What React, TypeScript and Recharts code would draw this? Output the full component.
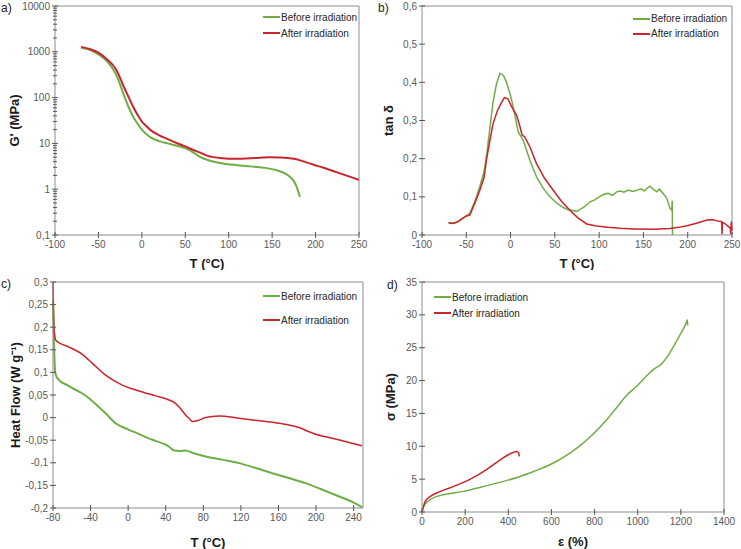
import { LineChart, Line, XAxis, YAxis, Legend, ReferenceLine } from "recharts";

const FONT = '"Liberation Sans", Arial, sans-serif';
const GREEN = "#70ad47";
const RED = "#c8252c";
const AXIS = "#8c8c8c";
const TICK_TEXT = "#595959";
const TICK_LINE = "#555555";

// a) storage modulus G' (MPa) vs T
const gTempBefore = [-70, -60, -50, -40, -30, -20, -15, -10, -5, 0, 5, 10, 20, 30, 40, 50, 55, 60, 67, 75, 90, 110, 125, 140, 155, 165, 170, 175, 178, 182];
const gBefore = [1220, 1100, 880, 620, 330, 105, 60, 38, 27, 20, 16, 13.5, 11.2, 10, 8.9, 7.8, 7.1, 6.2, 5.1, 4.4, 3.75, 3.35, 3.15, 2.95, 2.6, 2.2, 1.9, 1.5, 1.15, 0.68];
const gTempAfter = [-70, -60, -50, -40, -30, -20, -15, -10, -5, 0, 5, 10, 20, 30, 40, 50, 60, 67, 75, 90, 100, 115, 130, 145, 160, 175, 185, 197, 210, 220, 235, 250];
const gAfter = [1280, 1150, 960, 680, 420, 160, 100, 63, 42, 30, 24, 19.5, 15, 12.4, 10.2, 8.6, 7.1, 6.3, 5.4, 4.8, 4.65, 4.65, 4.8, 5.0, 4.95, 4.6, 4.1, 3.45, 2.9, 2.5, 2.0, 1.6];

// b) tan delta vs T
const tanTempBefore = [-70, -65, -60, -50, -46, -40, -35, -30, -27, -20, -16, -12, -8, -4.6, 0, 3, 8.6, 14.3, 21.8, 29.3, 37, 44.4, 52, 59.5, 65, 70.8, 75, 78.4, 84, 89.7, 95, 100, 104.8, 110, 115, 120, 123.6, 128, 133, 138, 142.5, 147, 151, 155, 157.5, 161, 165, 168, 172.6, 176.4, 180, 182, 182.5, 182.8];
const tanBefore = [0.032, 0.031, 0.035, 0.05, 0.057, 0.09, 0.125, 0.165, 0.21, 0.345, 0.395, 0.424, 0.418, 0.4, 0.365, 0.335, 0.27, 0.248, 0.196, 0.152, 0.122, 0.1, 0.084, 0.072, 0.066, 0.064, 0.062, 0.067, 0.075, 0.087, 0.092, 0.1, 0.106, 0.109, 0.104, 0.113, 0.115, 0.112, 0.118, 0.114, 0.117, 0.121, 0.116, 0.124, 0.128, 0.12, 0.113, 0.12, 0.108, 0.096, 0.07, 0.065, 0.09, 0];
const tanTempAfter = [-70, -65, -60, -50, -46, -40, -35, -30, -27, -20, -15, -10, -7, -3, 1, 6.7, 10.5, 13, 16, 22, 29.3, 38, 48, 57, 67, 76, 86, 97, 110, 123.6, 140, 161, 180, 190, 199, 210, 221.6, 228, 233, 238.4, 238.8, 239.2, 242, 246, 248, 248.6, 249.2, 250];
const tanAfter = [0.032, 0.03, 0.034, 0.05, 0.052, 0.085, 0.115, 0.15, 0.2, 0.29, 0.325, 0.348, 0.36, 0.357, 0.337, 0.314, 0.285, 0.262, 0.257, 0.23, 0.187, 0.15, 0.118, 0.09, 0.065, 0.045, 0.029, 0.0235, 0.02, 0.0174, 0.016, 0.0148, 0.017, 0.02, 0.024, 0.031, 0.039, 0.04, 0.037, 0.035, 0.002, 0.033, 0.03, 0.022, 0.018, 0.002, 0.035, 0.012];

// c) DSC heat flow vs T
const dscTempBefore = [-80, -79, -78, -77, -73.6, -65, -59.4, -50, -41.7, -33, -24, -13.3, 0.9, 10, 22, 30, 40, 44, 48.8, 55, 61, 70, 82.5, 100, 118, 135, 153.5, 170, 189, 205, 224, 240, 249];
const dscBefore = [0.26, 0.17, 0.11, 0.094, 0.083, 0.072, 0.065, 0.055, 0.043, 0.027, 0.0096, -0.0125, -0.027, -0.035, -0.046, -0.052, -0.06, -0.065, -0.073, -0.074, -0.073, -0.079, -0.086, -0.093, -0.1007, -0.111, -0.123, -0.133, -0.145, -0.158, -0.174, -0.188, -0.198];
const dscTempAfter = [-80, -79.5, -79, -78, -77, -70, -63, -55.9, -48.8, -38, -24, -6.2, 11.5, 29.3, 43.5, 50, 54, 58, 61, 65, 68.3, 73.6, 82.5, 96.7, 118, 135, 153.5, 170, 182, 190, 199.6, 212, 224, 237, 249];
const dscAfter = [0.3, 0.24, 0.2, 0.18, 0.171, 0.162, 0.156, 0.149, 0.14, 0.12, 0.094, 0.072, 0.059, 0.048, 0.039, 0.032, 0.024, 0.014, 0.006, -0.002, -0.0088, -0.007, 0.0, 0.0037, -0.0015, -0.006, -0.0103, -0.016, -0.022, -0.029, -0.037, -0.043, -0.049, -0.056, -0.0625];

// d) stress-strain
const strainBefore = [0, 8, 31, 69, 116, 193, 280, 378, 455, 520, 600, 687, 740, 795, 850, 900, 950, 1000, 1050, 1073, 1110, 1150, 1190, 1224, 1230, 1232];
const stressBefore = [0, 0.86, 1.72, 2.38, 2.74, 3.14, 3.85, 4.66, 5.4, 6.2, 7.3, 9.0, 10.3, 11.9, 13.8, 15.8, 17.8, 19.3, 21.0, 21.7, 22.5, 24.3, 26.6, 28.7, 29.2, 28.4];
const strainAfter = [0, 15, 39, 85, 147, 224, 301, 363, 409, 440, 448, 451];
const stressAfter = [0, 1.62, 2.38, 3.14, 3.9, 5.0, 6.5, 7.95, 8.87, 9.2, 9.0, 8.46];

// axis ticks
const gTicks = [0.1, 1, 10, 100, 1000, 10000];
const gMinorTicks = [0.1, 1, 10, 100, 1000].flatMap((d) => [2, 3, 4, 5, 6, 7, 8, 9].map((m) => d * m));
const gAllTicks = [...gTicks, ...gMinorTicks].sort((a, b) => a - b);
const tempTicksAB = [-100, -50, 0, 50, 100, 150, 200, 250];
const tanTicks = [0, 0.1, 0.2, 0.3, 0.4, 0.5, 0.6];
const dscXTicks = [-80, -40, 0, 40, 80, 120, 160, 200, 240];
const dscYTicks = [-0.2, -0.15, -0.1, -0.05, 0, 0.05, 0.1, 0.15, 0.2, 0.25, 0.3];
const strainTicks = [0, 200, 400, 600, 800, 1000, 1200, 1400];
const stressTicks = [0, 5, 10, 15, 20, 25, 30, 35];

const LEGEND_ORDER = ["Before irradiation", "After irradiation"];

const zip = (xs: number[], ys: number[]) => xs.map((x, i) => ({ x, y: ys[i] }));
const fmt = (v: number) => String(v).replace(".", ",");

const titleStyle = { fontSize: 13, fontWeight: 700, fill: "#1a1a1a", fontFamily: FONT };

// Excel-like ticks that cross the axis line; minor ones get no label
function yTick(majors?: number[]) {
  return (props: any) => {
    const { x, y, payload } = props;
    const major = !majors || majors.includes(payload.value);
    const h = major ? 3 : 2;
    return (
      <g>
        <line x1={x - h} x2={x + h} y1={y} y2={y} stroke={TICK_LINE} strokeWidth={1} />
        {major && (
          <text x={x - 5} y={y} dy="0.35em" textAnchor="end" fontSize={10} fill={TICK_TEXT} fontFamily={FONT}>
            {fmt(payload.value)}
          </text>
        )}
      </g>
    );
  };
}

function xTick(props: any) {
  const { x, y, payload } = props;
  return (
    <g>
      <line x1={x} x2={x} y1={y - 3} y2={y + 3} stroke={TICK_LINE} strokeWidth={1} />
      <text x={x} y={y + 5} dy="0.75em" textAnchor="middle" fontSize={10} fill={TICK_TEXT} fontFamily={FONT}>
        {fmt(payload.value)}
      </text>
    </g>
  );
}

function legendAt(top: number, left: number, rowH: number) {
  return (
    <Legend
      layout="vertical"
      align="center"
      verticalAlign="middle"
      wrapperStyle={{ top, left, width: "auto" }}
      content={(props: any) => {
        const items = [...(props.payload || [])].sort(
          (a: any, b: any) => LEGEND_ORDER.indexOf(a.value) - LEGEND_ORDER.indexOf(b.value)
        );
        return (
          <div style={{ fontFamily: FONT, fontSize: 10, color: "#262626" }}>
            {items.map((p: any) => (
              <div key={p.value} style={{ display: "flex", alignItems: "center", height: rowH }}>
                <span style={{ width: 17, borderTop: `2px solid ${p.color}`, marginRight: 1 }} />
                <span>{p.value}</span>
              </div>
            ))}
          </div>
        );
      }}
    />
  );
}

// top and right edges of the plot box
function frame(xMax: number, yMax: number) {
  return [
    <ReferenceLine key="top" y={yMax} stroke={AXIS} strokeWidth={1} />,
    <ReferenceLine key="right" x={xMax} stroke={AXIS} strokeWidth={1} />,
  ];
}

const panelLabel = (text: string, left: number, top: number) => (
  <div style={{ position: "absolute", left, top, fontFamily: FONT, fontSize: 12, color: "#222" }}>{text}</div>
);

export default function App() {
  const box = (left: number, top: number): React.CSSProperties => ({ position: "absolute", left, top });
  return (
    <div style={{ position: "absolute", left: 0, top: 0, width: 741, height: 549, background: "#fff", fontFamily: FONT }}>
      {/* a) */}
      <div style={box(0, 0)}>
        <LineChart width={370} height={270} margin={{ top: 6, right: 11, bottom: 0, left: 0 }}>
          <XAxis dataKey="x" type="number" domain={[-100, 250]} ticks={tempTicksAB} interval={0} height={35} tick={xTick} tickLine={false} tickSize={0} tickMargin={0} stroke={AXIS}
            label={{ value: "T (°C)", position: "insideBottom", offset: 2, style: titleStyle }} />
          <YAxis dataKey="y" type="number" scale="log" domain={[0.1, 10000]} allowDataOverflow ticks={gAllTicks} interval={0} width={55} tick={yTick(gTicks)} tickLine={false} tickSize={0} tickMargin={0} stroke={AXIS}
            label={{ value: "G' (MPa)", angle: -90, position: "insideLeft", offset: 14, style: { ...titleStyle, textAnchor: "middle" } }} />
          {frame(250, 10000)}
          <Line data={zip(gTempBefore, gBefore)} dataKey="y" name="Before irradiation" type="monotone" stroke={GREEN} strokeWidth={2} dot={false} isAnimationActive={false} />
          <Line data={zip(gTempAfter, gAfter)} dataKey="y" name="After irradiation" type="monotone" stroke={RED} strokeWidth={2} dot={false} isAnimationActive={false} />
          {legendAt(9, 263, 16)}
        </LineChart>
      </div>

      {/* b) */}
      <div style={box(370, 0)}>
        <LineChart width={371} height={270} margin={{ top: 6, right: 9, bottom: 0, left: 0 }}>
          <XAxis dataKey="x" type="number" domain={[-100, 250]} ticks={tempTicksAB} interval={0} height={35} tick={xTick} tickLine={false} tickSize={0} tickMargin={0} stroke={AXIS}
            label={{ value: "T (°C)", position: "insideBottom", offset: 2, style: titleStyle }} />
          <YAxis dataKey="y" type="number" domain={[0, 0.6]} ticks={tanTicks} interval={0} width={52} tick={yTick()} tickLine={false} tickSize={0} tickMargin={0} stroke={AXIS}
            label={{ value: "tan δ", angle: -90, position: "insideLeft", offset: 18, style: { ...titleStyle, textAnchor: "middle" } }} />
          {frame(250, 0.6)}
          <Line data={zip(tanTempBefore, tanBefore)} dataKey="y" name="Before irradiation" type="linear" stroke={GREEN} strokeWidth={1.5} dot={false} isAnimationActive={false} />
          <Line data={zip(tanTempAfter, tanAfter)} dataKey="y" name="After irradiation" type="linear" stroke={RED} strokeWidth={1.5} dot={false} isAnimationActive={false} />
          {legendAt(11, 263, 15)}
        </LineChart>
      </div>

      {/* c) */}
      <div style={box(0, 270)}>
        <LineChart width={370} height={279} margin={{ top: 12, right: 7, bottom: 0, left: 0 }}>
          <XAxis dataKey="x" type="number" domain={[-80, 250]} ticks={dscXTicks} interval={0} height={41} tick={xTick} tickLine={false} tickSize={0} tickMargin={0} stroke={AXIS}
            label={{ value: "T (°C)", position: "insideBottom", offset: 2, style: titleStyle }} />
          <YAxis dataKey="y" type="number" domain={[-0.2, 0.3]} allowDataOverflow ticks={dscYTicks} interval={0} width={53} tick={yTick()} tickLine={false} tickSize={0} tickMargin={0} stroke={AXIS}
            label={{ value: "Heat Flow (W g⁻¹)", angle: -90, position: "insideLeft", offset: 15, style: { ...titleStyle, textAnchor: "middle" } }} />
          {frame(250, 0.3)}
          <Line data={zip(dscTempBefore, dscBefore)} dataKey="y" name="Before irradiation" type="monotone" stroke={GREEN} strokeWidth={2} dot={false} isAnimationActive={false} />
          <Line data={zip(dscTempAfter, dscAfter)} dataKey="y" name="After irradiation" type="monotone" stroke={RED} strokeWidth={1.5} dot={false} isAnimationActive={false} />
          {legendAt(14, 263, 24)}
        </LineChart>
      </div>

      {/* d) */}
      <div style={box(370, 270)}>
        <LineChart width={371} height={279} margin={{ top: 12, right: 17, bottom: 0, left: 0 }}>
          <XAxis dataKey="x" type="number" domain={[0, 1400]} ticks={strainTicks} interval={0} height={37} tick={xTick} tickLine={false} tickSize={0} tickMargin={0} stroke={AXIS}
            label={{ value: "ε (%)", position: "insideBottom", offset: 3, style: titleStyle }} />
          <YAxis dataKey="y" type="number" domain={[0, 35]} ticks={stressTicks} interval={0} width={52} tick={yTick()} tickLine={false} tickSize={0} tickMargin={0} stroke={AXIS}
            label={{ value: "σ (MPa)", angle: -90, position: "insideLeft", offset: 20, style: { ...titleStyle, textAnchor: "middle" } }} />
          {frame(1400, 35)}
          <Line data={zip(strainBefore, stressBefore)} dataKey="y" name="Before irradiation" type="monotone" stroke={GREEN} strokeWidth={1.5} dot={false} isAnimationActive={false} />
          <Line data={zip(strainAfter, stressAfter)} dataKey="y" name="After irradiation" type="monotone" stroke={RED} strokeWidth={1.5} dot={false} isAnimationActive={false} />
          {legendAt(19, 64, 16)}
        </LineChart>
      </div>

      {panelLabel("a)", 1, 1)}
      {panelLabel("b)", 378, 1)}
      {panelLabel("c)", 1, 277)}
      {panelLabel("d)", 387, 278)}
    </div>
  );
}
